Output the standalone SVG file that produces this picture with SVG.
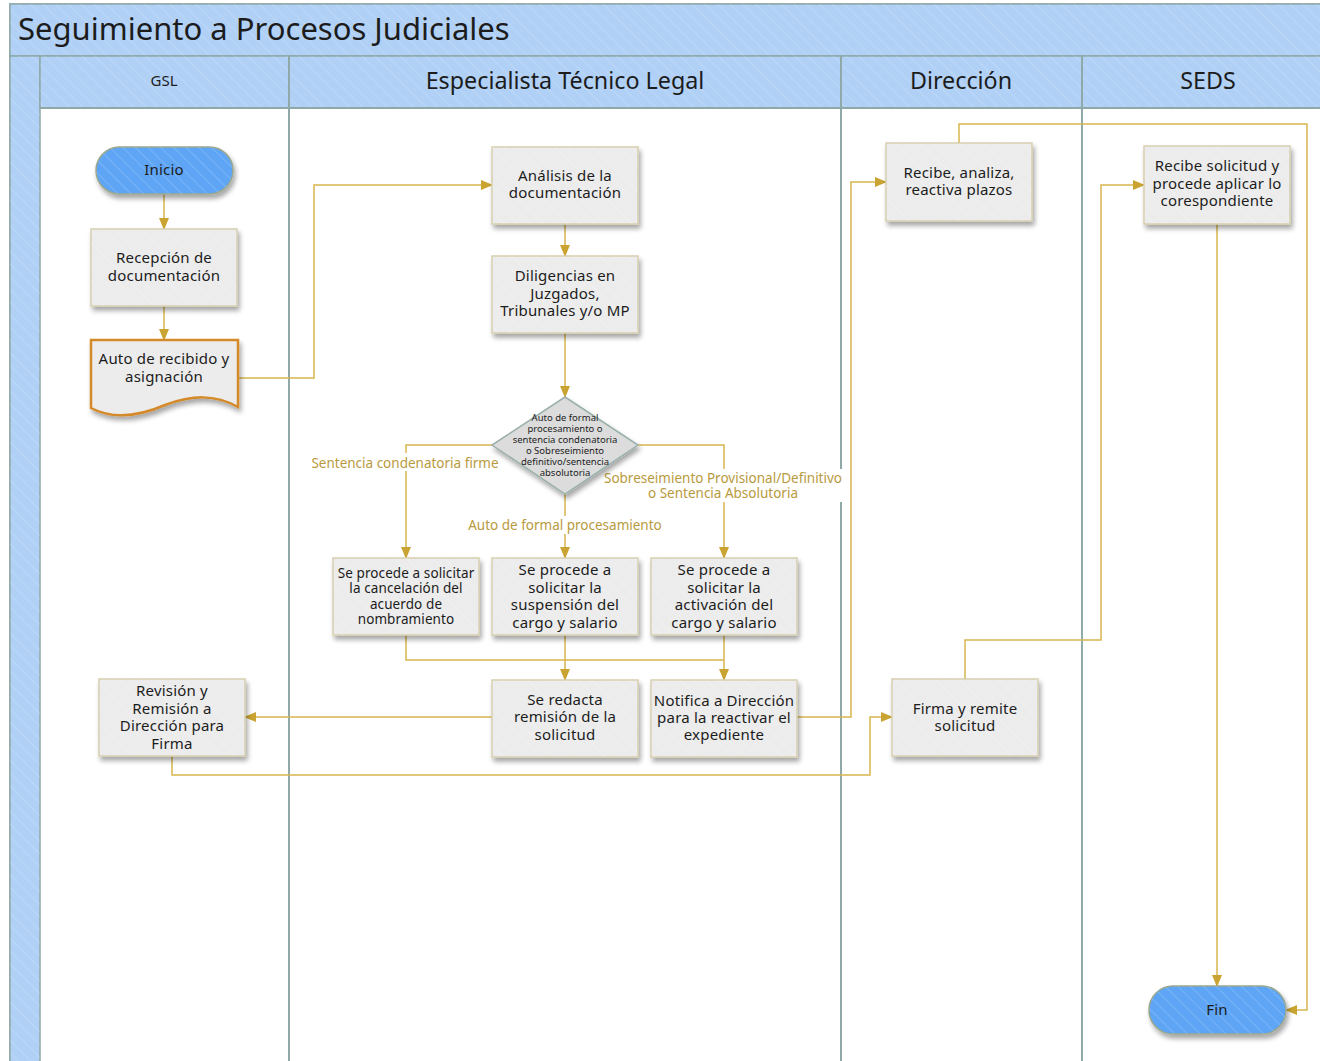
<svg xmlns="http://www.w3.org/2000/svg" width="1320" height="1061" viewBox="0 0 1320 1061">
  <style>
    .hdr { fill: #b0d0f6; stroke: #8fa9a8; stroke-width: 1.5; }
    .hatch { fill: url(#hatch); stroke: none; }
    .lane { stroke: #8fa9a8; stroke-width: 2; fill: none; }
    .box { fill: #ececec; stroke: #d6cfae; stroke-width: 1.5; filter: url(#shadow); }
    .term { fill: #5ea5f5; stroke: #9aa890; stroke-width: 1.5; filter: url(#shadow); }
    .doc { fill: #ececec; stroke: #d48a2a; stroke-width: 2.5; filter: url(#shadow); }
    .dia { fill: #dcdcdc; stroke: #9ab0ac; stroke-width: 1.5; filter: url(#shadow); }
    .t { font-family: "Noto Sans", "Open Sans", sans-serif; fill: #1c1c1c; text-anchor: middle; }
    .n { font-size: 15px; letter-spacing: 0.2px; }
    .s { font-size: 13.5px; letter-spacing: 0.1px; }
    .xs { font-size: 9.5px; }
    .lbl { font-family: "Noto Sans", "Open Sans", sans-serif; font-size: 13.5px; fill: #b89a3e; text-anchor: middle; }
    .edge { stroke: #d6b54e; stroke-width: 1.5; fill: none; }
    .arr { marker-end: url(#arrow); }
  </style>
  <defs>
    <pattern id="hatch" width="9" height="9" patternUnits="userSpaceOnUse" patternTransform="rotate(-45)">
      <line x1="0" y1="0" x2="0" y2="9" stroke="#ffffff" stroke-opacity="0.22" stroke-width="1.5"/>
    </pattern>
    <filter id="shadow" x="-10%" y="-10%" width="125%" height="130%">
      <feGaussianBlur in="SourceAlpha" stdDeviation="2.5"/>
      <feOffset dx="1.5" dy="3.5" result="b"/>
      <feComponentTransfer><feFuncA type="linear" slope="0.35"/></feComponentTransfer>
      <feMerge><feMergeNode/><feMergeNode in="SourceGraphic"/></feMerge>
    </filter>
    <marker id="arrow" markerWidth="12" markerHeight="10" refX="11" refY="5" orient="auto" markerUnits="userSpaceOnUse">
      <path d="M0,0 L12,5 L0,10 Z" fill="#c9a432"/>
    </marker>
  </defs>

  <!-- pool frame and headers -->
  <g id="pool">
    <rect x="0" y="0" width="1320" height="1061" fill="#ffffff"/>
    <rect x="10" y="4" width="1312" height="1060" fill="#ffffff" stroke="#8fa9a8" stroke-width="1.5"/>
    <rect class="hdr" x="10" y="4" width="1312" height="52"/>
    <rect class="hatch" x="10" y="4" width="1312" height="52"/>
    <rect class="hdr" x="10" y="56" width="30" height="1008"/>
    <rect class="hatch" x="10" y="56" width="30" height="1008"/>
    <rect class="hdr" x="40" y="56" width="1282" height="52"/>
    <rect class="hatch" x="40" y="56" width="1282" height="52"/>
    <line class="lane" x1="289" y1="56" x2="289" y2="1061"/>
    <line class="lane" x1="841" y1="56" x2="841" y2="1061"/>
    <line class="lane" x1="1082" y1="56" x2="1082" y2="1061"/>
    <line class="lane" x1="40" y1="108" x2="1320" y2="108"/>
    <text x="18" y="40" font-family="Noto Sans, Open Sans, sans-serif" font-size="31" fill="#1c1c1c">Seguimiento a Procesos Judiciales</text>
    <text class="t" x="164" y="86" font-size="15">GSL</text>
    <text class="t" x="565" y="89" font-size="23.3">Especialista Técnico Legal</text>
    <text class="t" x="961" y="89" font-size="23.3">Dirección</text>
    <text class="t" x="1208" y="89" font-size="23.3">SEDS</text>
  </g>

  <!-- connectors -->
  <g id="connectors">
    <path class="edge arr" d="M164,194 V229"/>
    <path class="edge arr" d="M164,306 V340"/>
    <path class="edge arr" d="M238,378 H314 V185 H492"/>
    <path class="edge arr" d="M565,224 V256"/>
    <path class="edge arr" d="M565,333 V397"/>
    <path class="edge arr" d="M492,445 H406 V558"/>
    <path class="edge arr" d="M565,494 V558"/>
    <path class="edge arr" d="M638,445 H724 V558"/>
    <path class="edge" d="M406,635 V660 H724"/>
    <path class="edge arr" d="M565,635 V680"/>
    <path class="edge arr" d="M724,635 V680"/>
    <path class="edge arr" d="M492,717 H245"/>
    <path class="edge arr" d="M797,717 H851 V182 H886"/>
    <path class="edge arr" d="M172,756 V775 H870 V717 H892"/>
    <path class="edge arr" d="M965,679 V640 H1101 V185 H1144"/>
    <path class="edge arr" d="M959,143 V124 H1307 V1010 H1286"/>
    <path class="edge arr" d="M1217,224 V986"/>
    <!-- branch labels -->
    <rect x="311" y="453" width="189" height="18" fill="#ffffff"/>
    <text class="lbl" x="405" y="468">Sentencia condenatoria firme</text>
    <rect x="466" y="516" width="197" height="18" fill="#ffffff"/>
    <text class="lbl" x="565" y="530">Auto de formal procesamiento</text>
    <rect x="602" y="469" width="241" height="33" fill="#ffffff"/>
    <text class="lbl" x="723" y="483">Sobreseimiento Provisional/Definitivo</text>
    <text class="lbl" x="723" y="498">o Sentencia Absolutoria</text>
  </g>

  <!-- GSL lane -->
  <g id="inicio">
    <rect class="term" x="96" y="147" width="137" height="47" rx="23.5"/>
    <rect class="hatch" x="96" y="147" width="137" height="47" rx="23.5"/>
    <text class="t n" x="164" y="175">Inicio</text>
  </g>
  <g id="recepcion">
    <rect class="box" x="91" y="229" width="146" height="77"/>
    <rect class="hatch" x="91" y="229" width="146" height="77"/>
    <text class="t n" x="164" y="263">Recepción de</text>
    <text class="t n" x="164" y="281">documentación</text>
  </g>
  <g id="auto-recibido">
    <path class="doc" d="M91,340 H238 V407 C215,394 192,395 165,405 C135,418 110,418 91,408 Z"/>
    <text class="t n" x="164" y="364">Auto de recibido y</text>
    <text class="t n" x="164" y="382">asignación</text>
  </g>
  <g id="revision">
    <rect class="box" x="99" y="679" width="146" height="77"/>
    <rect class="hatch" x="99" y="679" width="146" height="77"/>
    <text class="t n" x="172" y="696">Revisión y</text>
    <text class="t n" x="172" y="714">Remisión a</text>
    <text class="t n" x="172" y="731">Dirección para</text>
    <text class="t n" x="172" y="749">Firma</text>
  </g>

  <!-- Especialista Técnico Legal lane -->
  <g id="analisis">
    <rect class="box" x="492" y="147" width="146" height="77"/>
    <rect class="hatch" x="492" y="147" width="146" height="77"/>
    <text class="t n" x="565" y="181">Análisis de la</text>
    <text class="t n" x="565" y="198">documentación</text>
  </g>
  <g id="diligencias">
    <rect class="box" x="492" y="256" width="146" height="77"/>
    <rect class="hatch" x="492" y="256" width="146" height="77"/>
    <text class="t n" x="565" y="281">Diligencias en</text>
    <text class="t n" x="565" y="299">Juzgados,</text>
    <text class="t n" x="565" y="316">Tribunales y/o MP</text>
  </g>
  <g id="decision">
    <polygon class="dia" points="565,397 638,445 565,494 492,445"/>
    <text class="t xs" x="565" y="421">Auto de formal</text>
    <text class="t xs" x="565" y="432">procesamiento o</text>
    <text class="t xs" x="565" y="443">sentencia condenatoria</text>
    <text class="t xs" x="565" y="454">o Sobreseimiento</text>
    <text class="t xs" x="565" y="465">definitivo/sentencia</text>
    <text class="t xs" x="565" y="476">absolutoria</text>
  </g>
  <g id="cancelacion">
    <rect class="box" x="333" y="558" width="146" height="77"/>
    <rect class="hatch" x="333" y="558" width="146" height="77"/>
    <text class="t s" x="406" y="578">Se procede a solicitar</text>
    <text class="t s" x="406" y="593">la cancelación del</text>
    <text class="t s" x="406" y="609">acuerdo de</text>
    <text class="t s" x="406" y="624">nombramiento</text>
  </g>
  <g id="suspension">
    <rect class="box" x="492" y="558" width="146" height="77"/>
    <rect class="hatch" x="492" y="558" width="146" height="77"/>
    <text class="t n" x="565" y="575">Se procede a</text>
    <text class="t n" x="565" y="593">solicitar la</text>
    <text class="t n" x="565" y="610">suspensión del</text>
    <text class="t n" x="565" y="628">cargo y salario</text>
  </g>
  <g id="activacion">
    <rect class="box" x="651" y="558" width="146" height="77"/>
    <rect class="hatch" x="651" y="558" width="146" height="77"/>
    <text class="t n" x="724" y="575">Se procede a</text>
    <text class="t n" x="724" y="593">solicitar la</text>
    <text class="t n" x="724" y="610">activación del</text>
    <text class="t n" x="724" y="628">cargo y salario</text>
  </g>
  <g id="redacta">
    <rect class="box" x="492" y="680" width="146" height="77"/>
    <rect class="hatch" x="492" y="680" width="146" height="77"/>
    <text class="t n" x="565" y="705">Se redacta</text>
    <text class="t n" x="565" y="722">remisión de la</text>
    <text class="t n" x="565" y="740">solicitud</text>
  </g>
  <g id="notifica">
    <rect class="box" x="651" y="680" width="146" height="77"/>
    <rect class="hatch" x="651" y="680" width="146" height="77"/>
    <text class="t n" x="724" y="706" font-size="14.3">Notifica a Dirección</text>
    <text class="t n" x="724" y="723" font-size="14.3">para la reactivar el</text>
    <text class="t n" x="724" y="740" font-size="14.3">expediente</text>
  </g>

  <!-- Dirección lane -->
  <g id="recibe-analiza">
    <rect class="box" x="886" y="143" width="146" height="78"/>
    <rect class="hatch" x="886" y="143" width="146" height="78"/>
    <text class="t n" x="959" y="178">Recibe, analiza,</text>
    <text class="t n" x="959" y="195">reactiva plazos</text>
  </g>
  <g id="firma">
    <rect class="box" x="892" y="679" width="146" height="77"/>
    <rect class="hatch" x="892" y="679" width="146" height="77"/>
    <text class="t n" x="965" y="714">Firma y remite</text>
    <text class="t n" x="965" y="731">solicitud</text>
  </g>

  <!-- SEDS lane -->
  <g id="recibe-solicitud">
    <rect class="box" x="1144" y="146" width="146" height="78"/>
    <rect class="hatch" x="1144" y="146" width="146" height="78"/>
    <text class="t n" x="1217" y="171">Recibe solicitud y</text>
    <text class="t n" x="1217" y="189">procede aplicar lo</text>
    <text class="t n" x="1217" y="206">corespondiente</text>
  </g>
  <g id="fin">
    <rect class="term" x="1149" y="986" width="137" height="48" rx="24"/>
    <rect class="hatch" x="1149" y="986" width="137" height="48" rx="24"/>
    <text class="t n" x="1217" y="1015">Fin</text>
  </g>
</svg>
